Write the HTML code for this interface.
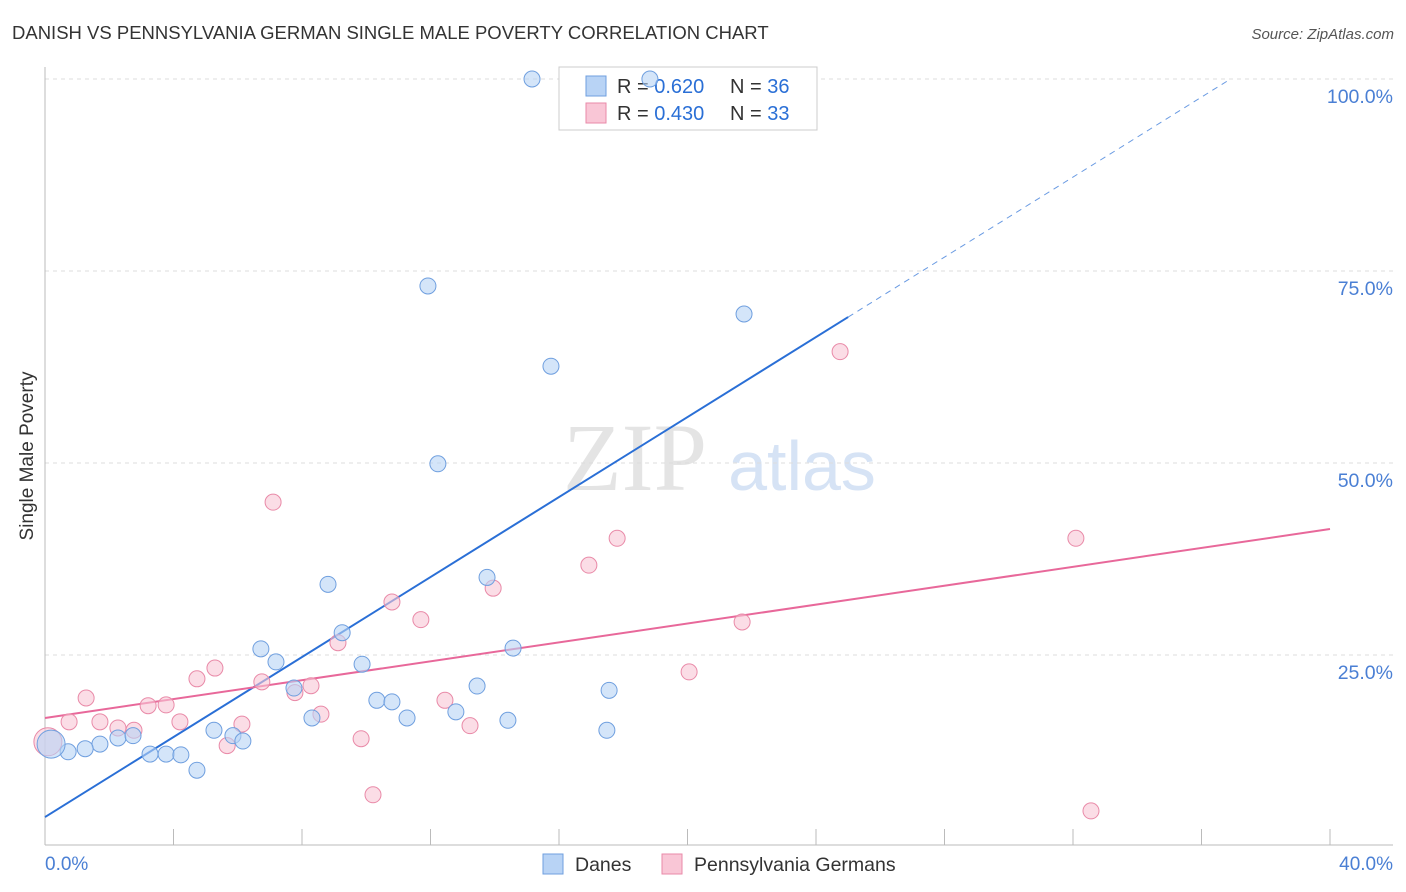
<!DOCTYPE html>
<html><head><meta charset="utf-8"><style>
body{margin:0;background:#fff;font-family:"Liberation Sans",sans-serif;}
svg{display:block}
</style></head><body>
<svg id="chart" width="1406" height="892">
<text x="12" y="39" font-size="18.5" fill="#333">DANISH VS PENNSYLVANIA GERMAN SINGLE MALE POVERTY CORRELATION CHART</text>
<text x="1394" y="39" font-size="15" fill="#555" font-style="italic" text-anchor="end">Source: ZipAtlas.com</text>
<text x="635" y="490" font-size="96" fill="#e4e4e4" font-family="Liberation Serif,serif" text-anchor="middle">ZIP</text>
<text x="802" y="490" font-size="70" fill="#d6e3f5" text-anchor="middle">atlas</text>
<g id="grid"></g>
<g id="axes"></g>
<g>
<rect x="559" y="67" width="258" height="63" fill="#fff" stroke="#ccc"/>
<rect x="586" y="76" width="20" height="20" fill="#b8d3f5" stroke="#6f9fdf"/>
<rect x="586" y="103" width="20" height="20" fill="#f9c6d6" stroke="#e98aa8"/>
<text x="617" y="93" font-size="20" fill="#333">R = <tspan fill="#2a6fd6">0.620</tspan></text>
<text x="730" y="93" font-size="20" fill="#333">N = <tspan fill="#2a6fd6">36</tspan></text>
<text x="617" y="120" font-size="20" fill="#333">R = <tspan fill="#2a6fd6">0.430</tspan></text>
<text x="730" y="120" font-size="20" fill="#333">N = <tspan fill="#2a6fd6">33</tspan></text>
</g>
<g id="lines"></g>
<g id="pts"></g>
<text x="33" y="456" font-size="19" fill="#333" text-anchor="middle" transform="rotate(-90 33 456)">Single Male Poverty</text>
<g>
<rect x="543" y="854" width="20" height="20" fill="#b8d3f5" stroke="#6f9fdf"/>
<text x="575" y="871" font-size="19.5" fill="#333">Danes</text>
<rect x="662" y="854" width="20" height="20" fill="#f9c6d6" stroke="#e98aa8"/>
<text x="694" y="871" font-size="19.5" fill="#333">Pennsylvania Germans</text>
</g>
</svg>
<script>
const yTicks=[25,50,75,100];
const yTickLabels=["25.0%","50.0%","75.0%","100.0%"];
const xTicks=[0,4,8,12,16,20,24,28,32,36,40];
const blueX=[15.16,18.83,11.92,21.76,15.75,12.23,8.81,13.76,9.25,14.57,6.72,7.19,9.87,7.75,13.45,17.56,10.33,10.80,8.31,11.27,12.79,14.41,17.49,5.26,5.85,6.16,2.27,2.74,1.71,1.25,0.72,0.19,3.27,3.77,4.23,4.73];
const blueY=[100,100,73.05,69.4,62.6,49.9,34.2,35.1,27.9,25.9,25.8,24.1,23.8,20.7,20.96,20.4,19.1,18.9,16.8,16.8,17.6,16.5,15.2,15.2,14.5,13.8,14.2,14.5,13.4,12.8,12.4,13.4,12.1,12.1,12.0,10.0];
const blueBig=[31];
const pinkX=[7.10,24.75,17.81,32.09,16.93,13.95,10.80,11.70,21.70,9.12,5.29,20.05,4.73,6.75,8.28,7.78,1.28,3.21,3.77,12.45,8.59,0.75,1.71,4.20,6.13,2.27,2.77,13.23,9.84,5.67,10.21,32.56,0.09];
const pinkY=[44.9,64.5,40.2,40.2,36.7,33.7,31.9,29.6,29.3,26.6,23.3,22.8,21.9,21.5,21.0,20.1,19.4,18.4,18.5,19.1,17.3,16.3,16.3,16.3,16.0,15.5,15.2,15.8,14.1,13.2,6.8,4.7,13.7];
const pinkBig=[32];
const blueLine=[3.9,69.0,25];
const pinkLine=[16.8,41.4,40];
const X=v=>45+v*32.125, Y=v=>847-v*7.68;
const NS="http://www.w3.org/2000/svg";
function mk(parent,tag,attrs){const e=document.createElementNS(NS,tag);for(const k in attrs)e.setAttribute(k,attrs[k]);document.getElementById(parent).appendChild(e);return e;}
yTicks.forEach((t,i)=>{
 const g=mk("grid","line",{x1:45,x2:1393,y1:Y(t),y2:Y(t),stroke:"#ddd","stroke-dasharray":"4,4"});
 
 
 const l=mk("grid","text",{x:1393,y:Y(t)+24,"font-size":19.5,fill:"#4a7fd4","text-anchor":"end"});
 l.textContent=yTickLabels[i];
 
 
});
mk("axes","line",{x1:45,x2:45,y1:67,y2:845,stroke:"#bbb"});
mk("axes","line",{x1:45,x2:1393,y1:845,y2:845,stroke:"#bbb"});
xTicks.forEach(t=>{const k=mk("axes","line",{x1:X(t),x2:X(t),y1:829,y2:845,stroke:"#bbb"});
 
 });
const xl0=mk("axes","text",{x:45,y:870,"font-size":19,fill:"#4a7fd4"});xl0.textContent="0.0%";


const xl1=mk("axes","text",{x:1393,y:870,"font-size":19,fill:"#4a7fd4","text-anchor":"end"});xl1.textContent="40.0%";


function dot(xs,ys,big,fill,stroke,name){xs.forEach((x,i)=>{
 const c=mk("pts","circle",{cx:X(x),cy:Y(ys[i]),r:big.includes(i)?14:8,fill:fill,"fill-opacity":0.6,stroke:stroke,"stroke-width":1});
 
 });}
dot(pinkX,pinkY,pinkBig,"#f9c6d6","#e98aa8","pennsylvania-german-point");
dot(blueX,blueY,blueBig,"#b8d3f5","#6f9fdf","danes-point");
const bs=(blueLine[1]-blueLine[0])/blueLine[2];
const bl=mk("lines","line",{x1:X(0),y1:Y(blueLine[0]),x2:X(blueLine[2]),y2:Y(blueLine[1]),stroke:"#2a6fd6","stroke-width":2});


const xe=(100-blueLine[0])/bs;
const bd=mk("lines","line",{x1:X(blueLine[2]),y1:Y(blueLine[1]),x2:X(xe),y2:Y(100),stroke:"#2a6fd6","stroke-width":1,"stroke-dasharray":"6,5","stroke-opacity":0.7});


const pl=mk("lines","line",{x1:X(0),y1:Y(pinkLine[0]),x2:X(pinkLine[2]),y2:Y(pinkLine[1]),stroke:"#e8689a","stroke-width":2});


</script>
</body></html>
